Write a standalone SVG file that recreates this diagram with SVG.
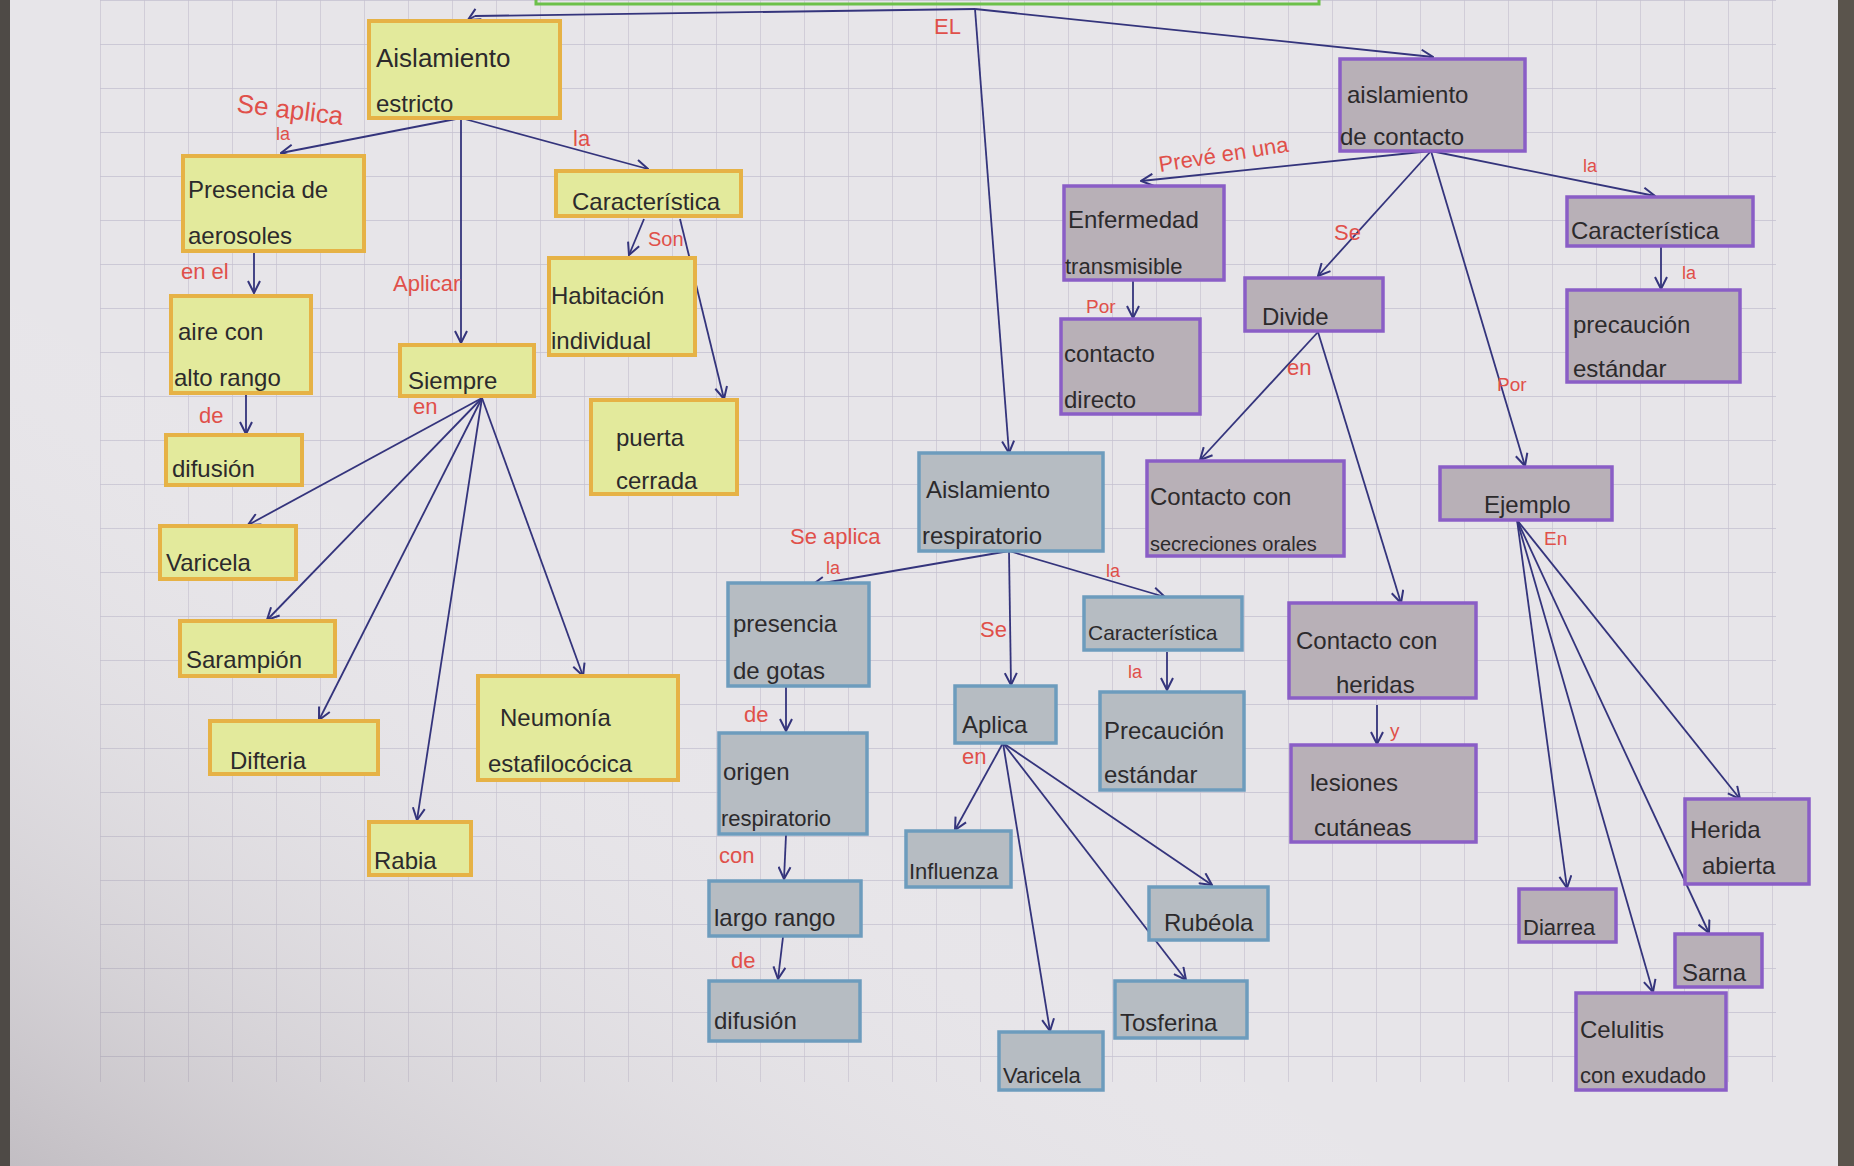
<svg xmlns="http://www.w3.org/2000/svg" width="1854" height="1166" viewBox="0 0 1854 1166">
<defs>
<pattern id="grid" width="44" height="44" patternUnits="userSpaceOnUse" x="100" y="0">
<path d="M44,0 L0,0 L0,44" fill="none" stroke="#c4c0cf" stroke-width="1.3"/>
</pattern>
<linearGradient id="shade" x1="1" y1="0" x2="0" y2="1">
<stop offset="0" stop-color="#ffffff" stop-opacity="0"/>
<stop offset="0.6" stop-color="#ffffff" stop-opacity="0"/>
<stop offset="1" stop-color="#6a6068" stop-opacity="0.3"/>
</linearGradient>
<marker id="ah" viewBox="0 0 14 14" refX="13" refY="7" markerWidth="14" markerHeight="14" markerUnits="userSpaceOnUse" orient="auto">
<path d="M1,1 L13,7 L1,13" fill="none" stroke="#34347c" stroke-width="2"/>
</marker>
<style>
.y rect{fill:#e3ea9c;stroke:#e6b246;stroke-width:4}
.b rect{fill:#b6bcc2;stroke:#6d9cbd;stroke-width:3.5}
.p rect{fill:#b8b0b7;stroke:#8a5ec6;stroke-width:3.5}
.node text{font-family:"Liberation Sans",Arial,sans-serif;font-size:24px;fill:#2c2a2c}
#connectors line{stroke:#34347c;stroke-width:1.8;marker-end:url(#ah)}
#connectors polyline{stroke:#34347c;stroke-width:1.8;fill:none}
.lbl{font-family:"Liberation Sans",Arial,sans-serif;font-size:22px;fill:#e0504a}
</style>
</defs>
<rect x="0" y="0" width="1854" height="1166" fill="#e7e5e9"/>
<rect x="100" y="0" width="1676" height="1082" fill="url(#grid)"/>
<rect x="0" y="0" width="1854" height="1166" fill="url(#shade)"/>
<rect x="0" y="0" width="10" height="1166" fill="#4e4a46"/>
<rect x="1838" y="0" width="16" height="1166" fill="#5a544c"/>
<rect x="536" y="-10" width="783" height="14" fill="none" stroke="#6cc04a" stroke-width="3"/>

<g id="connectors">
<polyline points="975,9 475,16"/>
<line x1="475" y1="16" x2="468" y2="20"/>
<line x1="975" y1="9" x2="1433" y2="57"/>
<line x1="975" y1="9" x2="1009" y2="453"/>
<line x1="461" y1="118" x2="281" y2="153"/>
<line x1="461" y1="118" x2="461" y2="343"/>
<line x1="461" y1="118" x2="648" y2="169"/>
<line x1="254" y1="253" x2="254" y2="293"/>
<line x1="246" y1="395" x2="246" y2="434"/>
<line x1="644" y1="219" x2="629" y2="255"/>
<line x1="680" y1="219" x2="724" y2="399"/>
<line x1="482" y1="398" x2="248" y2="525"/>
<line x1="482" y1="398" x2="267" y2="620"/>
<line x1="482" y1="398" x2="319" y2="720"/>
<line x1="482" y1="398" x2="417" y2="820"/>
<line x1="482" y1="398" x2="583" y2="676"/>
<line x1="1009" y1="551" x2="812" y2="585"/>
<line x1="1009" y1="551" x2="1011" y2="685"/>
<line x1="1009" y1="551" x2="1165" y2="597"/>
<line x1="786" y1="687" x2="786" y2="731"/>
<line x1="786" y1="835" x2="784" y2="879"/>
<line x1="783" y1="937" x2="778" y2="979"/>
<line x1="1167" y1="652" x2="1167" y2="690"/>
<line x1="1003" y1="743" x2="955" y2="830"/>
<line x1="1003" y1="743" x2="1050" y2="1031"/>
<line x1="1003" y1="743" x2="1186" y2="980"/>
<line x1="1003" y1="743" x2="1212" y2="885"/>
<line x1="1431" y1="151" x2="1141" y2="181"/>
<line x1="1431" y1="151" x2="1318" y2="276"/>
<line x1="1431" y1="151" x2="1655" y2="196"/>
<line x1="1431" y1="151" x2="1525" y2="466"/>
<line x1="1133" y1="281" x2="1133" y2="318"/>
<line x1="1661" y1="247" x2="1661" y2="289"/>
<line x1="1318" y1="332" x2="1200" y2="460"/>
<line x1="1318" y1="332" x2="1401" y2="603"/>
<line x1="1377" y1="705" x2="1377" y2="744"/>
<line x1="1517" y1="520" x2="1567" y2="888"/>
<line x1="1517" y1="520" x2="1653" y2="992"/>
<line x1="1517" y1="520" x2="1709" y2="933"/>
<line x1="1517" y1="520" x2="1740" y2="799"/>
</g>

<g id="n-aislamiento-estricto" class="node y"><rect x="369" y="21" width="191" height="97"/><text x="376" y="67" style="font-size:26px">Aislamiento</text><text x="376" y="112">estricto</text></g>
<g id="n-presencia-aerosoles" class="node y"><rect x="183" y="156" width="181" height="95"/><text x="188" y="198">Presencia de</text><text x="188" y="244">aerosoles</text></g>
<g id="n-aire-alto-rango" class="node y"><rect x="171" y="296" width="140" height="97"/><text x="178" y="340">aire  con</text><text x="174" y="386">alto rango</text></g>
<g id="n-difusion-1" class="node y"><rect x="166" y="435" width="136" height="50"/><text x="172" y="477">difusión</text></g>
<g id="n-varicela-1" class="node y"><rect x="160" y="526" width="136" height="53"/><text x="166" y="571">Varicela</text></g>
<g id="n-sarampion" class="node y"><rect x="180" y="621" width="155" height="55"/><text x="186" y="668">Sarampión</text></g>
<g id="n-difteria" class="node y"><rect x="210" y="721" width="168" height="53"/><text x="230" y="769">Difteria</text></g>
<g id="n-rabia" class="node y"><rect x="369" y="822" width="102" height="53"/><text x="374" y="869">Rabia</text></g>
<g id="n-neumonia" class="node y"><rect x="478" y="676" width="200" height="104"/><text x="500" y="726">Neumonía</text><text x="488" y="772">estafilocócica</text></g>
<g id="n-siempre" class="node y"><rect x="400" y="345" width="134" height="51"/><text x="408" y="389">Siempre</text></g>
<g id="n-caracteristica-1" class="node y"><rect x="556" y="171" width="185" height="45"/><text x="572" y="210">Característica</text></g>
<g id="n-habitacion" class="node y"><rect x="549" y="258" width="146" height="97"/><text x="551" y="304">Habitación</text><text x="551" y="349">individual</text></g>
<g id="n-puerta" class="node y"><rect x="591" y="400" width="146" height="94"/><text x="616" y="446">puerta</text><text x="616" y="489">cerrada</text></g>

<g id="n-aislamiento-respiratorio" class="node b"><rect x="919" y="453" width="184" height="98"/><text x="926" y="498">Aislamiento</text><text x="922" y="544">respiratorio</text></g>
<g id="n-presencia-gotas" class="node b"><rect x="728" y="583" width="141" height="103"/><text x="733" y="632">presencia</text><text x="733" y="679">de gotas</text></g>
<g id="n-origen" class="node b"><rect x="719" y="733" width="148" height="101"/><text x="723" y="780">origen</text><text x="721" y="826" style="font-size:22px">respiratorio</text></g>
<g id="n-largo-rango" class="node b"><rect x="709" y="881" width="152" height="55"/><text x="714" y="926">largo rango</text></g>
<g id="n-difusion-2" class="node b"><rect x="709" y="981" width="151" height="60"/><text x="714" y="1029">difusión</text></g>
<g id="n-aplica" class="node b"><rect x="955" y="686" width="101" height="57"/><text x="962" y="733">Aplica</text></g>
<g id="n-caracteristica-2" class="node b"><rect x="1084" y="597" width="158" height="53"/><text x="1088" y="640" style="font-size:21px">Característica</text></g>
<g id="n-precaucion-1" class="node b"><rect x="1100" y="692" width="144" height="98"/><text x="1104" y="739">Precaución</text><text x="1104" y="783">estándar</text></g>
<g id="n-influenza" class="node b"><rect x="906" y="831" width="105" height="56"/><text x="909" y="879" style="font-size:22px">Influenza</text></g>
<g id="n-varicela-2" class="node b"><rect x="999" y="1032" width="104" height="58"/><text x="1003" y="1083" style="font-size:22px">Varicela</text></g>
<g id="n-rubeola" class="node b"><rect x="1149" y="887" width="119" height="53"/><text x="1164" y="931">Rubéola</text></g>
<g id="n-tosferina" class="node b"><rect x="1115" y="981" width="132" height="57"/><text x="1120" y="1031">Tosferina</text></g>

<g id="n-aislamiento-contacto" class="node p"><rect x="1340" y="59" width="185" height="92"/><text x="1347" y="103">aislamiento</text><text x="1340" y="145">de contacto</text></g>
<g id="n-enfermedad" class="node p"><rect x="1064" y="186" width="160" height="94"/><text x="1068" y="228">Enfermedad</text><text x="1065" y="274" style="font-size:22px">transmisible</text></g>
<g id="n-contacto-directo" class="node p"><rect x="1061" y="319" width="139" height="95"/><text x="1064" y="362">contacto</text><text x="1064" y="408">directo</text></g>
<g id="n-divide" class="node p"><rect x="1245" y="278" width="138" height="53"/><text x="1262" y="325">Divide</text></g>
<g id="n-caracteristica-3" class="node p"><rect x="1567" y="197" width="186" height="49"/><text x="1571" y="239">Característica</text></g>
<g id="n-precaucion-2" class="node p"><rect x="1567" y="290" width="173" height="92"/><text x="1573" y="333">precaución</text><text x="1573" y="377">estándar</text></g>
<g id="n-secreciones" class="node p"><rect x="1147" y="461" width="197" height="95"/><text x="1150" y="505">Contacto con</text><text x="1150" y="551" style="font-size:20px">secreciones orales</text></g>
<g id="n-heridas" class="node p"><rect x="1289" y="603" width="187" height="95"/><text x="1296" y="649">Contacto con</text><text x="1336" y="693">heridas</text></g>
<g id="n-lesiones" class="node p"><rect x="1291" y="745" width="185" height="97"/><text x="1310" y="791">lesiones</text><text x="1314" y="836">cutáneas</text></g>
<g id="n-ejemplo" class="node p"><rect x="1440" y="467" width="172" height="53"/><text x="1484" y="513">Ejemplo</text></g>
<g id="n-herida-abierta" class="node p"><rect x="1685" y="799" width="124" height="85"/><text x="1690" y="838">Herida</text><text x="1702" y="874">abierta</text></g>
<g id="n-diarrea" class="node p"><rect x="1519" y="889" width="97" height="53"/><text x="1523" y="935" style="font-size:22px">Diarrea</text></g>
<g id="n-sarna" class="node p"><rect x="1675" y="934" width="87" height="53"/><text x="1682" y="981">Sarna</text></g>
<g id="n-celulitis" class="node p"><rect x="1576" y="993" width="150" height="97"/><text x="1580" y="1038">Celulitis</text><text x="1580" y="1083" style="font-size:22px">con exudado</text></g>

<g id="labels">
<text class="lbl" x="934" y="34">EL</text>
<text class="lbl" x="236" y="112" transform="rotate(7 236 112)" style="font-size:26px">Se aplica</text>
<text class="lbl" x="276" y="140" style="font-size:18px">la</text>
<text class="lbl" x="573" y="146">la</text>
<text class="lbl" x="181" y="279">en el</text>
<text class="lbl" x="393" y="291">Aplicar</text>
<text class="lbl" x="648" y="246" style="font-size:20px">Son</text>
<text class="lbl" x="199" y="423">de</text>
<text class="lbl" x="413" y="414">en</text>
<text class="lbl" x="790" y="544">Se aplica</text>
<text class="lbl" x="826" y="574" style="font-size:18px">la</text>
<text class="lbl" x="1106" y="577" style="font-size:18px">la</text>
<text class="lbl" x="980" y="637">Se</text>
<text class="lbl" x="1128" y="678" style="font-size:18px">la</text>
<text class="lbl" x="744" y="722">de</text>
<text class="lbl" x="719" y="863">con</text>
<text class="lbl" x="731" y="968">de</text>
<text class="lbl" x="962" y="764">en</text>
<text class="lbl" x="1160" y="172" transform="rotate(-9 1160 172)">Prevé en una</text>
<text class="lbl" x="1583" y="172" style="font-size:18px">la</text>
<text class="lbl" x="1334" y="240">Se</text>
<text class="lbl" x="1086" y="313" style="font-size:19px">Por</text>
<text class="lbl" x="1682" y="279" style="font-size:18px">la</text>
<text class="lbl" x="1287" y="375">en</text>
<text class="lbl" x="1497" y="391" style="font-size:19px">Por</text>
<text class="lbl" x="1544" y="545" style="font-size:19px">En</text>
<text class="lbl" x="1390" y="737" style="font-size:19px">y</text>
</g>
</svg>
